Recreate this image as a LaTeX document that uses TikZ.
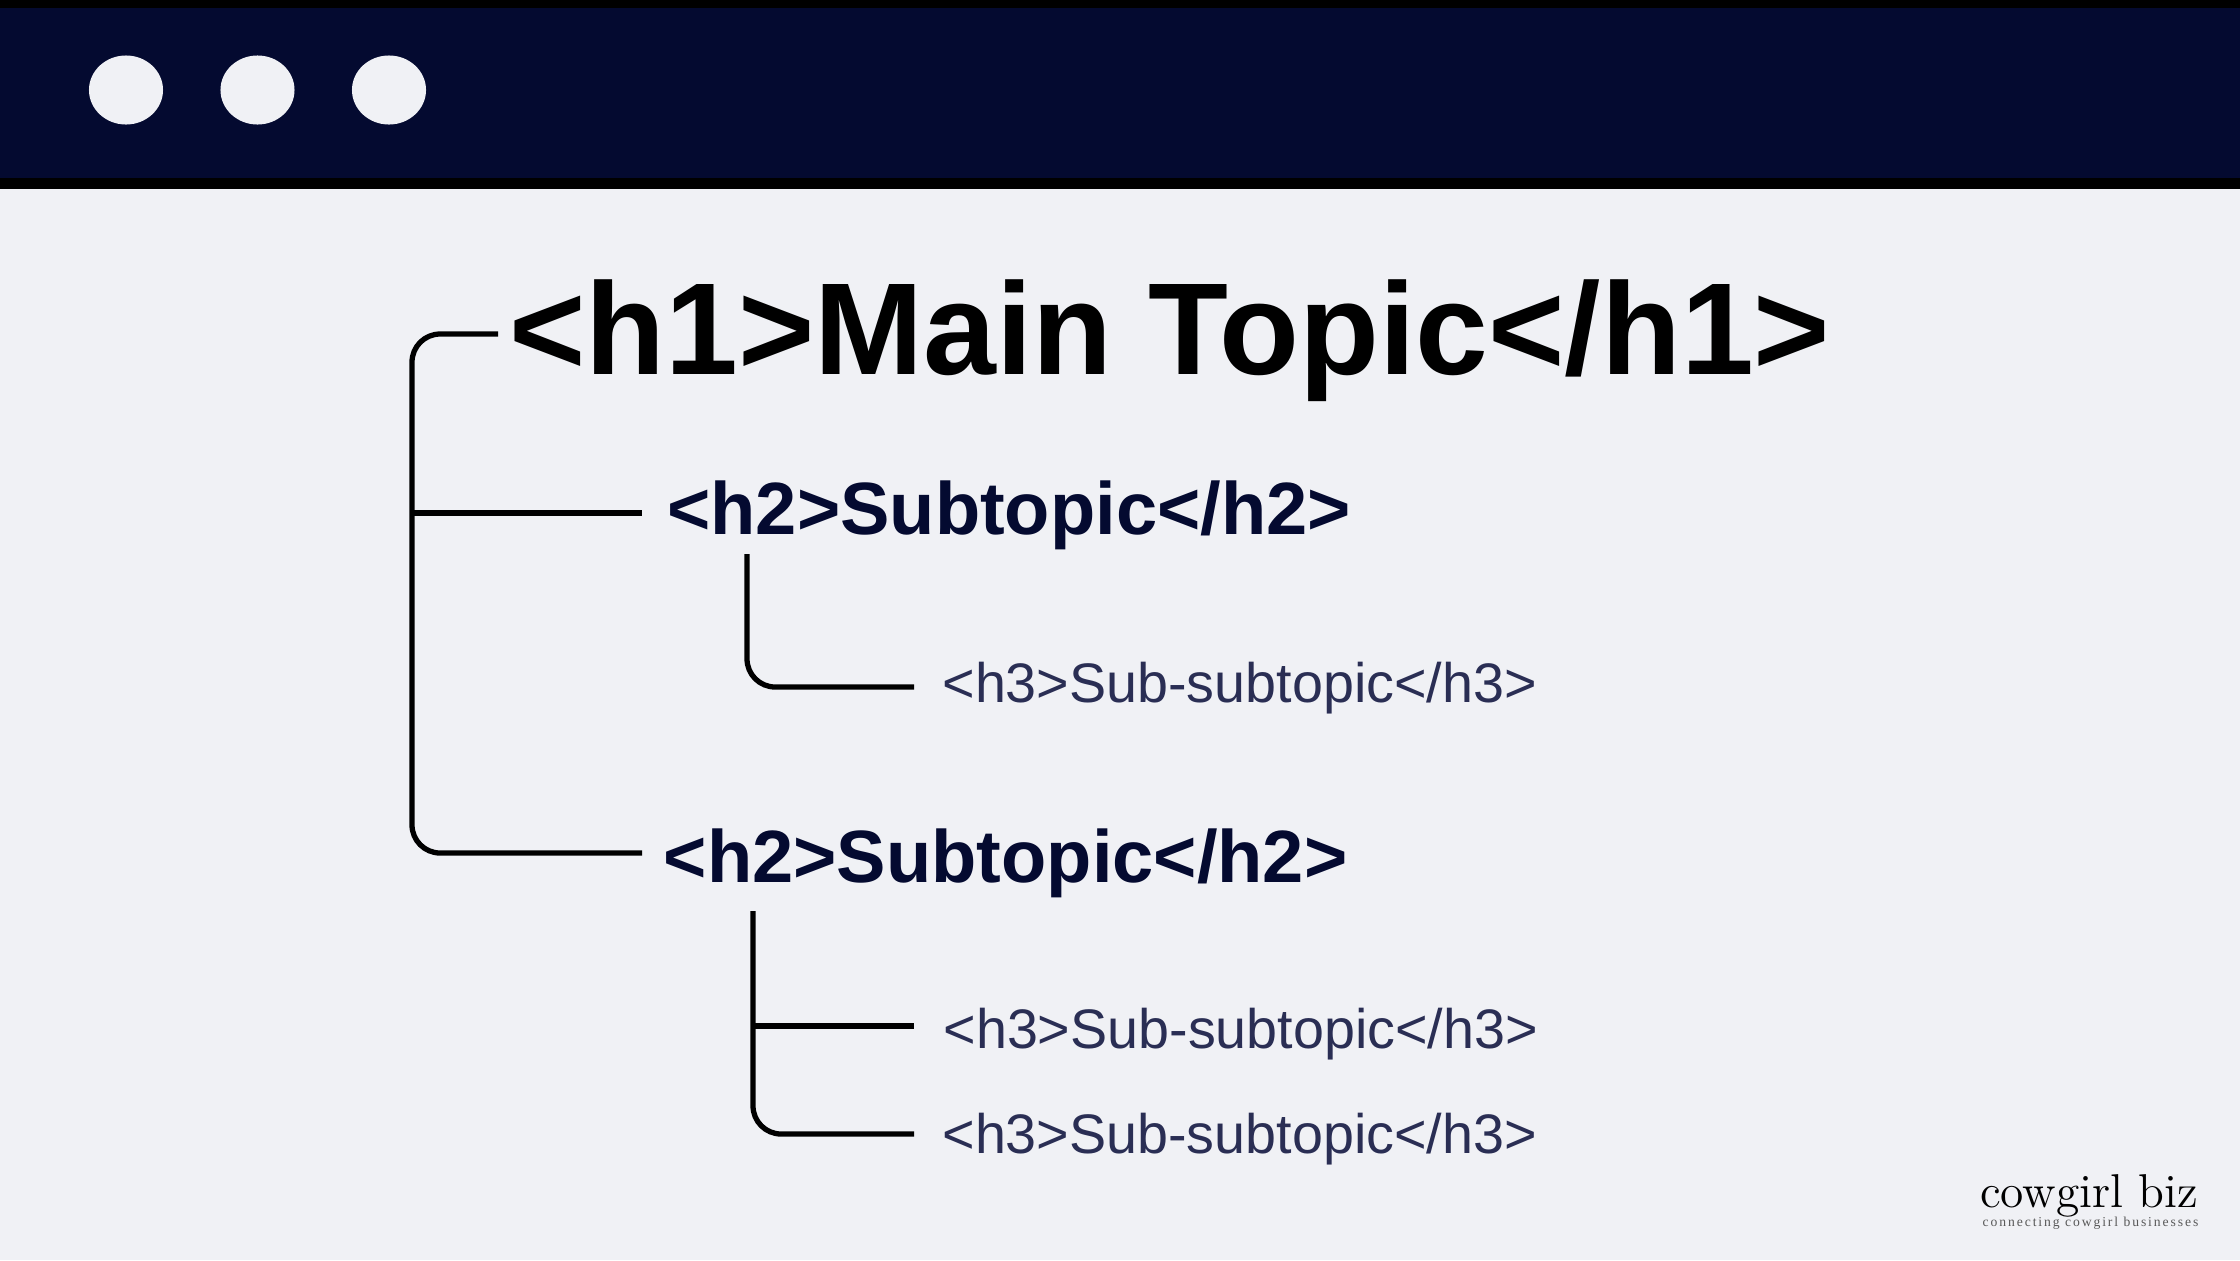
\documentclass[tikz,border=0pt]{standalone}
\usepackage{fontspec}
\setmainfont{Liberation Sans}
\newfontfamily\logofont{Latin Modern Roman}
\newfontfamily\tagfont[LetterSpace=14]{Liberation Serif}
\usetikzlibrary{positioning}
\definecolor{paper}{HTML}{F0F1F5}
\definecolor{navy}{HTML}{040A30}
\definecolor{slate}{HTML}{2A2E54}
\tikzset{
  wire/.style={line width=1.5pt,black,rounded corners=8pt},
  dot/.style={fill=paper,draw=none},
  hone/.style={anchor=west,inner xsep=3pt,inner ysep=0pt,font=\fontsize{37.2}{37.2}\selectfont\bfseries,text height=31pt,text depth=7.7pt},
  htwo/.style={anchor=west,inner xsep=7pt,inner ysep=0pt,navy,font=\fontsize{21.07}{21.07}\selectfont\bfseries,text height=18pt,text depth=5.5pt},
  hthree/.style={anchor=west,inner xsep=7.9pt,inner ysep=0pt,slate,font=\fontsize{15.83}{15.83}\selectfont,text height=13pt,text depth=3.5pt},
}
\begin{document}
\begin{tikzpicture}[x=0.01cm,y=-0.01cm]
  \useasboundingbox (0,0) rectangle (2240,1260);
  \fill[paper] (0,0) rectangle (2240,1260);
  \fill[black] (0,0) rectangle (2240,189);
  \fill[navy] (0,8) rectangle (2240,178);
  % browser buttons
  \foreach \cx in {126,257.5,389}
    \fill[dot] (\cx,90) ellipse [x radius=0.37cm,y radius=0.345cm];
  % headings
  \node[hone] (main) at (498,334) {<h1>Main Topic</h1>};
  \node[htwo] (suba) at (642,513) {<h2>Subtopic</h2>};
  \node[hthree,text height=12.2pt] (subsuba) at (914,687) {<h3>Sub-subtopic</h3>};
  \node[htwo,inner xsep=6pt,text height=22pt] (subb) at (642,853) {<h2>Subtopic</h2>};
  \node[hthree,text height=16.2pt,inner xsep=8.2pt] (subsubb) at (914,1026) {<h3>Sub-subtopic</h3>};
  \node[hthree,text height=14.6pt] (subsubc) at (914,1134) {<h3>Sub-subtopic</h3>};
  % branches
  \coordinate (spine) at (412,513);
  \coordinate (topa) at (747,554);
  \coordinate (topb) at (753,911);
  \coordinate (joinb) at (753,1026);
  \draw[wire] (main.west) -| (spine) |- (subb.west);
  \draw[wire] (spine) -- (suba.west);
  \draw[wire] (topa) |- (subsuba.west);
  \draw[wire] (topb) |- (subsubc.west);
  \draw[wire] (joinb) -- (subsubb.west);
  % logo
  \node[anchor=base east,inner sep=0pt,font=\logofont\fontsize{13.5}{13.5}\selectfont] (logo) at (2199,1207) {cowgirl biz};
  \node[anchor=base east,inner sep=0pt,gray!70!black,font=\tagfont\fontsize{3.88}{3.88}\selectfont] (tag) at (2199,1226) {connecting cowgirl businesses};
\end{tikzpicture}
\end{document}
